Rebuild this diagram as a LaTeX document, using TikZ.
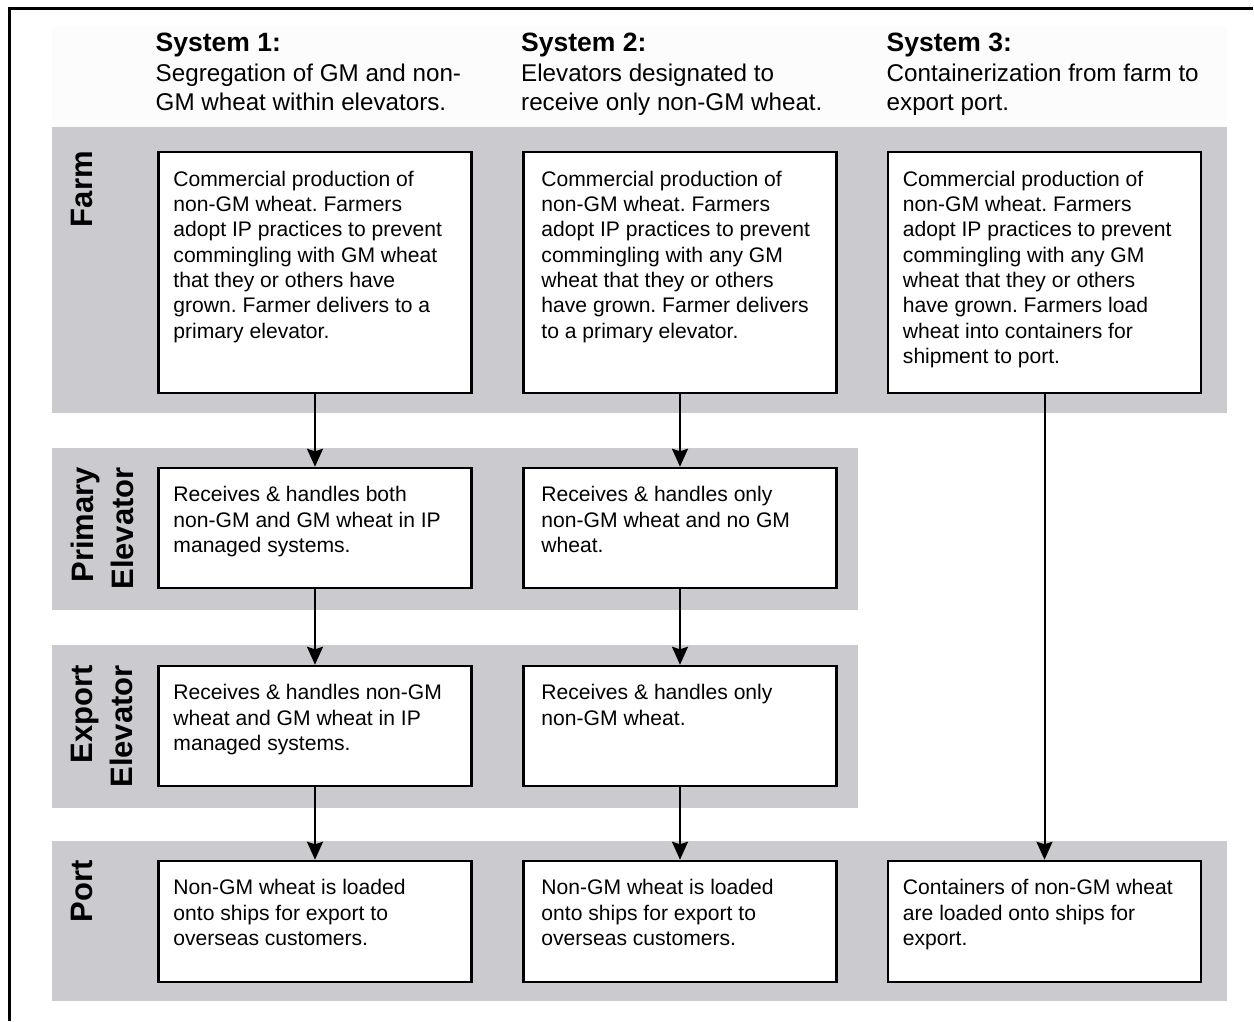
\documentclass[tikz,border=0pt]{standalone}
\usepackage{fontspec}
\setmainfont{Liberation Sans}
\usetikzlibrary{arrows.meta,calc}
\definecolor{band}{RGB}{203,202,206}
\definecolor{faint}{RGB}{252,252,252}
\frenchspacing
\begin{document}
\frenchspacing
\begin{tikzpicture}[x=1pt,y=-1pt,
  boxn/.style={draw=black, line width=2.5pt, fill=white, minimum width=313pt, inner sep=0pt},
  txt/.style={anchor=north west, inner sep=0pt, align=left, font=\fontsize{21.1}{25.3}\selectfont},
  hdr/.style={anchor=north west, inner sep=0pt, align=left, font=\fontsize{24.2}{29.3}\selectfont},
  rowlab/.style={rotate=90, anchor=north east, inner sep=0pt, align=right, font=\bfseries\fontsize{31}{40}\selectfont},
  arr/.style={line width=2pt, -{Stealth[length=18pt,width=16pt,inset=2.5pt]}}
]
\useasboundingbox (0,0) rectangle (1254,1021);
\fill[white] (0,0) rectangle (1254,1021);
% frame
\draw[line width=3pt] (9,1021) -- (9,8) -- (1253,8);
% bands
\fill[faint] (52,27) rectangle (1226.5,127);
\fill[band] (52,127) rectangle (1226.5,413);
\fill[band] (52,448) rectangle (858,610);
\fill[band] (52,645) rectangle (858,808);
\fill[band] (52,841) rectangle (1226.5,1001);
% headers
\node[hdr] (h1) at (155.5,33) {{\bfseries\fontsize{26.5}{29.3}\selectfont System 1:}\\Segregation of GM and non-\\GM wheat within elevators.};
\node[hdr] (h2) at (521,33) {{\bfseries\fontsize{26.5}{29.3}\selectfont System 2:}\\Elevators designated to\\receive only non-GM wheat.};
\node[hdr] (h3) at (886.5,33) {{\bfseries\fontsize{26.5}{29.3}\selectfont System 3:}\\Containerization from farm to\\export port.};
% row labels
\node[rowlab] (lf) at (70.5,151) {Farm};
\node[rowlab] (lp) at (70.5,467) {Primary\\Elevator};
\node[rowlab] (le) at (70.5,665) {Export\\Elevator};
\node[rowlab] (lo) at (70.5,860) {Port};
% boxes
\node[boxn, minimum height=241pt] (f1) at (315,272.5) {};
\node[boxn, minimum height=241pt] (f2) at (680,272.5) {};
\node[boxn, minimum height=241pt] (f3) at (1044.5,272.5) {};
\node[boxn, minimum height=120pt] (p1) at (315,528) {};
\node[boxn, minimum height=120pt] (p2) at (680,528) {};
\node[boxn, minimum height=120pt] (e1) at (315,726) {};
\node[boxn, minimum height=120pt] (e2) at (680,726) {};
\node[boxn, minimum height=121pt] (o1) at (315,921.5) {};
\node[boxn, minimum height=121pt] (o2) at (680,921.5) {};
\node[boxn, minimum height=121pt] (o3) at (1044.5,921.5) {};
% box texts
\node[txt] (tf1) at ($(f1.north west)+(16,20)$) {Commercial production of\\non-GM wheat. Farmers\\adopt IP practices to prevent\\commingling with GM wheat\\that they or others have\\grown. Farmer delivers to a\\primary elevator.};
\node[txt] (tf2) at ($(f2.north west)+(19,20)$) {Commercial production of\\non-GM wheat. Farmers\\adopt IP practices to prevent\\commingling with any GM\\wheat that they or others\\have grown. Farmer delivers\\to a primary elevator.};
\node[txt] (tf3) at ($(f3.north west)+(16,20)$) {Commercial production of\\non-GM wheat. Farmers\\adopt IP practices to prevent\\commingling with any GM\\wheat that they or others\\have grown. Farmers load\\wheat into containers for\\shipment to port.};
\node[txt] (tp1) at ($(p1.north west)+(16,19.5)$) {Receives \& handles both\\non-GM and GM wheat in IP\\managed systems.};
\node[txt] (tp2) at ($(p2.north west)+(19,19.5)$) {Receives \& handles only\\non-GM wheat and no GM\\wheat.};
\node[txt] (te1) at ($(e1.north west)+(16,19.5)$) {Receives \& handles non-GM\\wheat and GM wheat in IP\\managed systems.};
\node[txt] (te2) at ($(e2.north west)+(19,19.5)$) {Receives \& handles only\\non-GM wheat.};
\node[txt] (to1) at ($(o1.north west)+(16,19.5)$) {Non-GM wheat is loaded\\onto ships for export to\\overseas customers.};
\node[txt] (to2) at ($(o2.north west)+(19,19.5)$) {Non-GM wheat is loaded\\onto ships for export to\\overseas customers.};
\node[txt] (to3) at ($(o3.north west)+(16,19.5)$) {Containers of non-GM wheat\\are loaded onto ships for\\export.};
% arrows
\draw[arr] (f1.south) -- (p1.north);
\draw[arr] (p1.south) -- (e1.north);
\draw[arr] (e1.south) -- (o1.north);
\draw[arr] (f2.south) -- (p2.north);
\draw[arr] (p2.south) -- (e2.north);
\draw[arr] (e2.south) -- (o2.north);
\draw[arr] (f3.south) -- (o3.north);
\end{tikzpicture}
\end{document}
